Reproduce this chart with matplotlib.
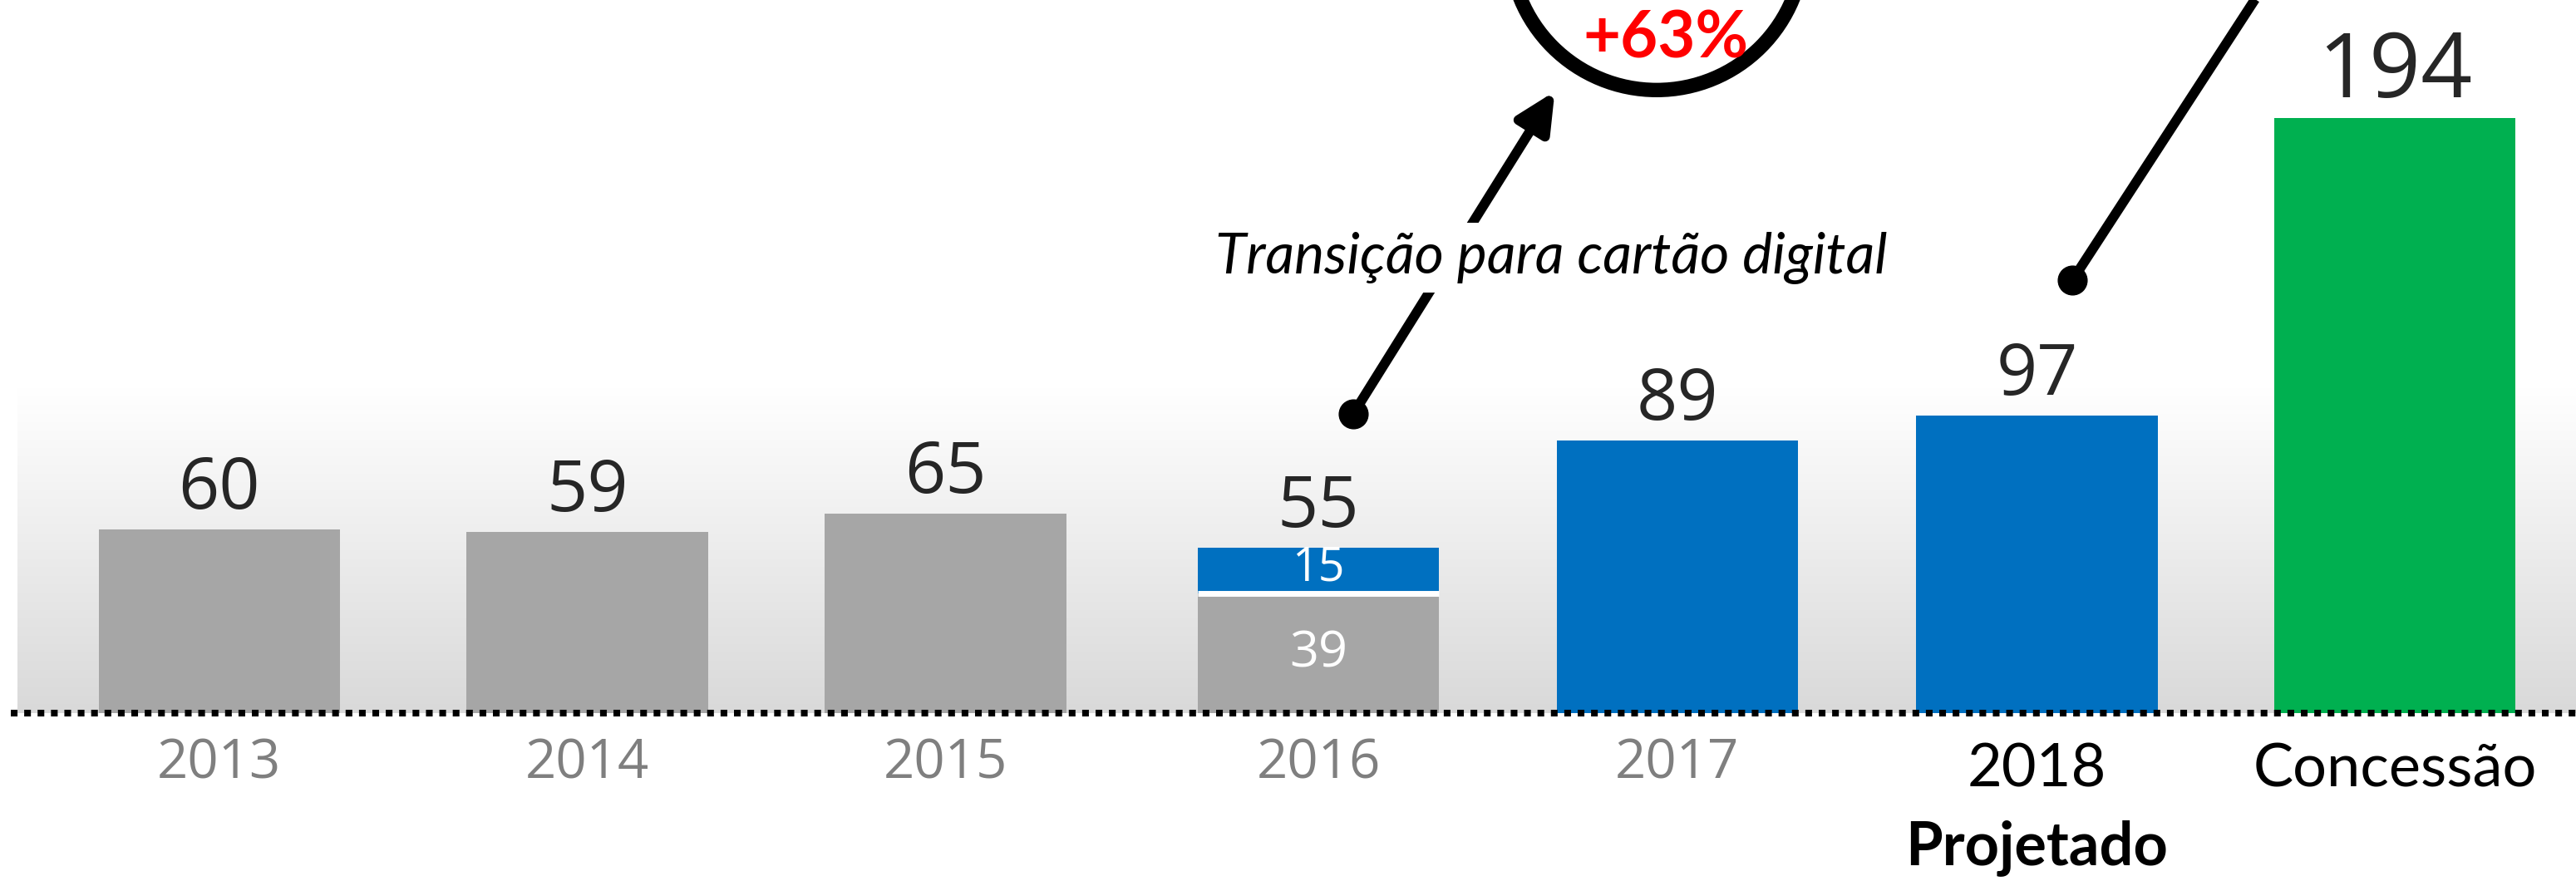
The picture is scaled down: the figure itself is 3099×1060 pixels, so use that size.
import numpy as np
import matplotlib.pyplot as plt
from matplotlib.patches import Ellipse
from matplotlib.colors import to_rgb

categories = ['2013', '2014', '2015', '2016', '2017', '2018', 'Concessão']
totals = [60, 59, 65, 55, 89, 97, 194]
gray_part = [60, 59, 65, 39, 0, 0, 0]
blue_part = [0, 0, 0, 15, 89, 97, 0]
green_part = [0, 0, 0, 0, 0, 0, 194]
growth_label = '+63%'
note_label = 'Transição para cartão digital'
projected_label = 'Projetado'

# layout: slot centres (slightly uneven in the original slide)
slot_x = [0, 1.015, 2.003, 3.032, 4.022, 5.014, 6.001]

GRAY = '#a6a6a6'
BLUE = '#0070c0'
GREEN = '#00b050'
SANS = ['Open Sans', 'DejaVu Sans']
CAL = ['Lato', 'DejaVu Sans']

fig = plt.figure(figsize=(30.99, 10.60), dpi=100)
ax = fig.add_axes([0, 0, 1, 1])
ax.axis('off')
ax.set_xlim(-0.605, 6.501)
ax.set_ylim(-54.7, 232.5)

x = np.array(slot_x)
w = 0.666

# background gradient behind the bars
top_c = np.array(to_rgb('#ffffff'))
bot_c = np.array(to_rgb('#d9d9d9'))
t = np.linspace(0, 1, 256)[:, None]
grad = (top_c * (1 - t) + bot_c * t)[:, None, :]
ax.imshow(grad, extent=[-0.557, 6.501, 0, 106], aspect='auto', zorder=0)

ax.bar(x, gray_part, w, color=GRAY, zorder=2)
ax.bar(x, blue_part, w, bottom=gray_part, color=BLUE, zorder=2)
ax.bar(x, green_part, w, color=GREEN, zorder=2)
ax.hlines(gray_part[3], x[3] - w / 2, x[3] + w / 2, color='white', lw=5, zorder=3)

# dotted baseline
ax.plot([-0.575, 6.501], [0, 0], color='black', lw=5.8,
        linestyle=(0, (1, 1)), dash_capstyle='butt', zorder=4, clip_on=False)

# value labels
for i, v in enumerate(totals):
    top = gray_part[i] + blue_part[i] + green_part[i]
    ax.annotate(str(v), (x[i], top), xytext=(0, 18), textcoords='offset points',
                ha='center', va='baseline', fontsize=78 if v > 150 else 62,
                color='#262626', family=SANS, zorder=5)

ax.text(x[3], gray_part[3] / 2, str(gray_part[3]), ha='center', va='center',
        fontsize=44, color='white', family=SANS, zorder=5)
ax.text(x[3], gray_part[3] + blue_part[3] / 2 + 0.6, str(blue_part[3]), ha='center',
        va='center', fontsize=40, color='white', family=SANS, zorder=5)

# category labels
for i, c in enumerate(categories):
    if i < 5:
        ax.text(x[i], -16.5, c, ha='center', va='center', fontsize=47,
                color='#7f7f7f', family=SANS)
    else:
        ax.text(x[i], -18.3, c, ha='center', va='center', fontsize=52,
                color='black', family=CAL)
ax.text(x[5], -43.9, projected_label, ha='center', va='center', fontsize=52,
        fontweight='bold', color='black', family=CAL)

# annotations
ax.text(3.675, 148.5, note_label, ha='center', va='center', fontsize=49,
        style='italic', color='black', family=CAL, zorder=7,
        bbox=dict(facecolor='white', edgecolor='none', pad=8))
ax.annotate('', xy=(3.684, 202.7), xytext=(3.128, 97.6),
            arrowprops=dict(arrowstyle='-|>,head_length=0.7,head_width=0.34',
                            mutation_scale=40, color='black', lw=8.5,
                            shrinkA=0, shrinkB=0), zorder=6)
ax.plot([3.128], [97.6], 'o', color='black', ms=25, zorder=8)

ax.plot([5.112, 5.644], [141.2, 237.9], color='black', lw=8.5,
        solid_capstyle='butt', zorder=6, clip_on=False)
ax.plot([5.112], [141.2], 'o', color='black', ms=25, zorder=6)

ax.add_patch(Ellipse((3.965, 251.1), 0.812, 95.9, facecolor='white',
                     edgecolor='black', lw=12.5, zorder=7, clip_on=False))
ax.text(3.989, 219.5, growth_label, ha='center', va='center', fontsize=56,
        fontweight='bold', color='#ff0000', family=CAL, zorder=8)

fig.savefig('out.png', dpi=100)
